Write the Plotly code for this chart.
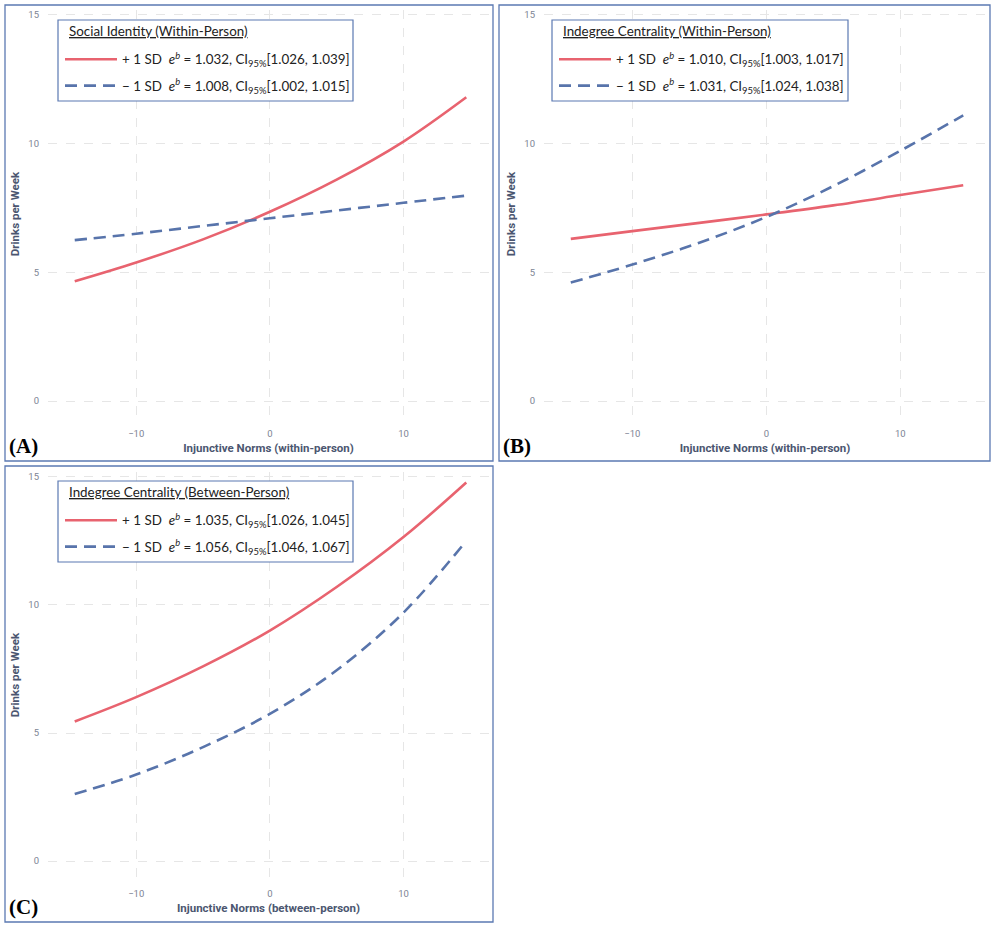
import plotly.graph_objects as go

# ---------------------------------------------------------------
# values (predicted drinks per week)
# ---------------------------------------------------------------
norm_x = [-14.6, -10, -5, 0, 5, 10, 14.7]

# (A) social identity, within-person norms
a_plus = [4.65, 5.38, 6.28, 7.35, 8.6, 10.08, 11.8]
a_minus = [6.25, 6.5, 6.8, 7.1, 7.4, 7.7, 7.98]
# (B) indegree centrality, within-person norms
b_plus = [6.3, 6.6, 6.92, 7.25, 7.6, 8.0, 8.38]
b_minus = [4.6, 5.3, 6.15, 7.15, 8.35, 9.72, 11.1]
# (C) indegree centrality, between-person norms
c_plus = [5.45, 6.4, 7.6, 9.0, 10.7, 12.65, 14.78]
c_minus = [2.62, 3.38, 4.45, 5.75, 7.45, 9.7, 12.5]

legend_titles = ["Social Identity (Within-Person)",
                 "Indegree Centrality (Within-Person)",
                 "Indegree Centrality (Between-Person)"]
plus_stats = ["1.032", "1.026", "1.039"], ["1.010", "1.003", "1.017"], ["1.035", "1.026", "1.045"]
minus_stats = ["1.008", "1.002", "1.015"], ["1.031", "1.024", "1.038"], ["1.056", "1.046", "1.067"]
x_titles = ["Injunctive Norms (within-person)",
            "Injunctive Norms (within-person)",
            "Injunctive Norms (between-person)"]
panel_tags = ["(A)", "(B)", "(C)"]

# ---------------------------------------------------------------
W, H = 992, 927
red = "#E8636F"
blue = "#5874AB"
frame = "#5B79B2"
nb = "\u00a0"
lfont = "Lato, Noto Sans"


def label(sign, st):
    return (f"{sign}{nb}1{nb}SD{nb}{nb}<i>e</i><sup><i>b</i></sup> = {st[0]}, "
            f"CI<sub>95%</sub>[{st[1]}, {st[2]}]")


# pixel boxes of the three panels (frame), plot areas and legend boxes
frames = [(5, 5, 493, 461), (499, 5, 990, 461), (5, 466, 493, 922)]
plots = [(48, 10, 489, 418), (544, 10, 986, 418), (48, 472, 489, 878)]
legend_box = [(58, 20, 353, 101), (552, 20, 848, 101), (58, 481, 353, 562)]

series = [(a_plus, a_minus), (b_plus, b_minus), (c_plus, c_minus)]

fig = go.Figure()
layout = dict(width=W, height=H, margin=dict(l=0, r=0, t=0, b=0, pad=0),
              paper_bgcolor="white", plot_bgcolor="white",
              font=dict(family="Roboto, Arial", color="#4b5670"),
              shapes=[], annotations=[])

for i in range(3):
    sfx = "" if i == 0 else str(i + 1)
    lg = "legend" + sfx
    plus, minus = series[i]
    fig.add_trace(go.Scatter(x=norm_x, y=plus, mode="lines", line_shape="spline",
                             line=dict(color=red, width=2.6),
                             name=label("+", plus_stats[i]),
                             xaxis="x" + sfx, yaxis="y" + sfx,
                             legend=lg, legendgroup=f"p{i}"))
    fig.add_trace(go.Scatter(x=norm_x, y=minus, mode="lines", line_shape="spline",
                             line=dict(color=blue, width=2.6, dash="12px,7px"),
                             name=label("\u2212", minus_stats[i]),
                             xaxis="x" + sfx, yaxis="y" + sfx,
                             legend=lg, legendgroup=f"m{i}"))

    x0, y0, x1, y1 = plots[i]
    layout["xaxis" + sfx] = dict(
        domain=[x0 / W, x1 / W], range=[-16.6, 16.4], anchor="y" + sfx,
        tickvals=[-10, 0, 10], showgrid=True, gridcolor="#e6e6e6", griddash="dash",
        zeroline=False, showline=False, ticks="", ticklabelstandoff=8, automargin=False,
        tickfont=dict(size=9.5, color="#7d8494"),
        title=dict(text=f"<b>{x_titles[i]}</b>", font=dict(size=11.5, color="#4b5670"),
                   standoff=6))
    layout["yaxis" + sfx] = dict(
        domain=[1 - y1 / H, 1 - y0 / H], range=[-0.66, 15.19], anchor="x" + sfx,
        tickvals=[0, 5, 10, 15], showgrid=True, gridcolor="#e6e6e6", griddash="dash",
        zeroline=False, showline=False, ticks="", ticklabelstandoff=8, automargin=False,
        tickfont=dict(size=9.5, color="#7d8494"),
        title=dict(text="<b>Drinks per Week</b>", font=dict(size=11.5, color="#4b5670"),
                   standoff=6))

    bx0, by0, bx1, by1 = legend_box[i]
    layout[lg] = dict(
        x=(bx0 + 2) / W, y=1 - (by0 + 24) / H, xanchor="left", yanchor="top",
        bgcolor="rgba(0,0,0,0)", borderwidth=0,
        traceorder="grouped", tracegroupgap=6,
        font=dict(family=lfont, size=13.4, color="#222222"),
        itemwidth=52)
    layout["shapes"].append(dict(type="rect", xref="paper", yref="paper",
                                 x0=bx0 / W, x1=bx1 / W, y0=1 - by1 / H, y1=1 - by0 / H,
                                 fillcolor="white", layer="above",
                                 line=dict(color=frame, width=1.2)))
    layout["annotations"].append(dict(
        text=f"<u>{legend_titles[i]}</u>", xref="paper", yref="paper",
        x=(bx0 + 9) / W, y=1 - (by0 + 11) / H, xanchor="left", yanchor="middle",
        showarrow=False, font=dict(family=lfont, size=13.4, color="#222222")))

    fx0, fy0, fx1, fy1 = frames[i]
    layout["shapes"].append(dict(type="rect", xref="paper", yref="paper",
                                 x0=fx0 / W, x1=fx1 / W, y0=1 - fy1 / H, y1=1 - fy0 / H,
                                 line=dict(color=frame, width=1.3)))
    layout["annotations"].append(dict(
        text=f"<b>{panel_tags[i]}</b>", xref="paper", yref="paper",
        x=(fx0 + 2) / W, y=1 - (fy1 - 1) / H, xanchor="left", yanchor="bottom",
        showarrow=False, font=dict(family="Liberation Serif", size=21, color="black")))

fig.update_layout(**layout)
fig.write_html("out.html", config={"displayModeBar": False},
               post_script="document.body.style.margin='0';")
